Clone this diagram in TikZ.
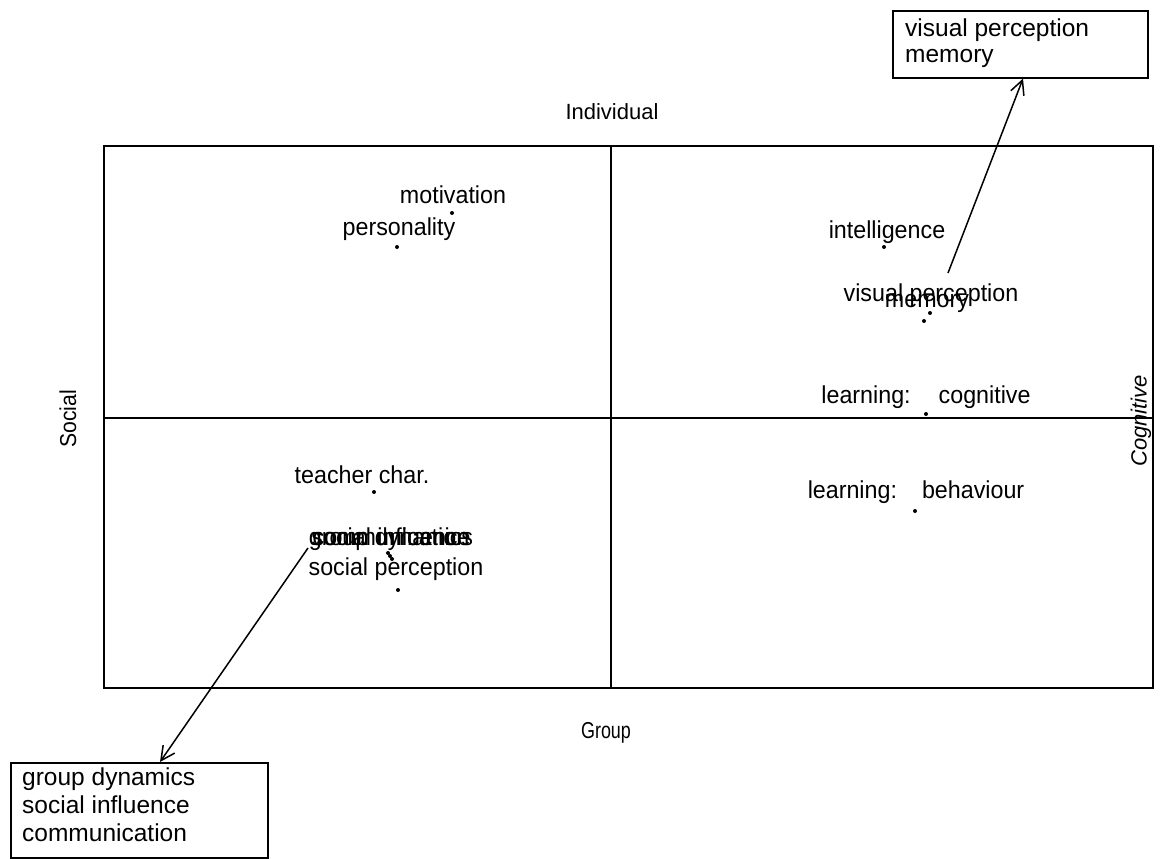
\documentclass[tikz,border=0pt]{standalone}
\usepackage{fontspec}
\setmainfont{Liberation Sans}
\newfontfamily\cond[FakeStretch=0.95]{Liberation Sans}
\newfontfamily\condi[FakeStretch=1.0]{Liberation Sans}
\newfontfamily\condb[FakeStretch=0.78]{Liberation Sans}
\newfontfamily\conds[FakeStretch=0.92]{Liberation Sans}
\usetikzlibrary{arrows.meta}
\begin{document}
\begin{tikzpicture}[x=1pt,y=-1pt,
  frame/.style={draw=black,line width=1.6pt},
  pt/.style={circle,fill=black,inner sep=0pt,minimum size=4pt},
  lbl/.style={anchor=base,inner sep=0pt,font=\cond\fontsize{24.5}{26}\selectfont},
  boxfr/.style={draw=black,line width=1.6pt,anchor=north west,inner sep=0pt},
  boxline/.style={anchor=base west,inner sep=0pt,font=\fontsize{24.5}{27}\selectfont},
  pointer/.style={line width=1.5pt,-{Straight Barb[length=14pt,width=14pt,line width=1.5pt]}}]
\useasboundingbox (0,0) rectangle (1165,859);
% frame
\draw[frame] (104,146) rectangle (1153,688);
\draw[frame] (611,146) -- (611,688);
\draw[frame] (104,418) -- (1153,418);
% axis labels
\node[inner sep=0pt,font=\condi\fontsize{22}{24}\selectfont] (ind) at (612,112) {Individual};
\node[inner sep=0pt,font=\condb\fontsize{23}{24}\selectfont] (grp) at (606,733) {Group};
\node[inner sep=0pt,rotate=90,font=\conds\fontsize{23}{24}\selectfont] (soc) at (68,419) {Social};
\node[inner sep=0pt,rotate=90,font=\fontsize{22}{24}\selectfont\rmfamily\itshape] (cog) at (1141,421) {Cognitive};
% points
\node[pt] (pmot) at (452,213) {};
\node[lbl] (tmot) at (453,203) {motivation};
\node[pt] (ppers) at (397,247) {};
\node[lbl] (tpers) at (399,235) {personality};
\node[pt] (pint) at (884,247) {};
\node[lbl] (tint) at (887,238) {intelligence};
\node[pt] (pvis) at (930,313) {};
\node[lbl] (tvis) at (931,301) {visual perception};
\node[pt] (pmem) at (924,321) {};
\node[lbl] (tmem) at (927,307) {memory};
\node[pt] (plc) at (926,414) {};
\node[lbl] (tlc) at (926,403) {learning:\hspace{28pt}cognitive};
\node[pt] (ptea) at (374,492) {};
\node[lbl] (ttea) at (362,483) {teacher char.};
\node[pt] (plb) at (915,511) {};
\node[lbl] (tlb) at (916,498) {learning:\hspace{25pt}behaviour};
\node[pt] (pgd) at (388,553) {};
\node[pt] (psi) at (390,556) {};
\node[pt] (pcom) at (392,559) {};
\node[lbl] (tgd) at (391,545) {group dynamics};
\node[lbl] (tsi) at (391,545) {social influence};
\node[lbl] (tcom) at (391,545) {communication};
\node[pt] (psp) at (398,590) {};
\node[lbl] (tsp) at (396,575) {social perception};
% call-out boxes
\node[boxfr,minimum width=255pt,minimum height=67pt] (boxtr) at (892,10) {};
\node[boxline] (btr1) at (905,37) {visual perception};
\node[boxline] (btr2) at (905,63) {memory};
\node[boxfr,minimum width=257pt,minimum height=95pt] (boxbl) at (10,762) {};
\node[boxline] (bbl1) at (22,785) {group dynamics};
\node[boxline] (bbl2) at (22,813) {social influence};
\node[boxline] (bbl3) at (22,841) {communication};
% pointers
\coordinate (s1) at (948,273);
\coordinate (s2) at (308,548);
\draw[pointer] (s1) -- (boxtr.south -| 1023,0);
\draw[pointer] (s2) -- (boxbl.north -| 160,0);
\end{tikzpicture}
\end{document}
